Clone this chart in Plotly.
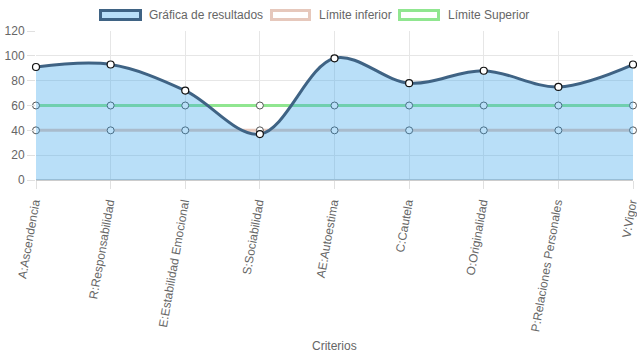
import plotly.graph_objects as go

categories = ["A:Ascendencia", "R:Responsabilidad", "E:Estabilidad Emocional",
              "S:Sociabilidad", "AE:Autoestima", "C:Cautela", "O:Originalidad",
              "P:Relaciones Personales", "V:Vigor"]
resultados = [91, 93, 72, 37, 98, 78, 88, 75, 93]
limite_inferior = [40, 40, 40, 40, 40, 40, 40, 40, 40]
limite_superior = [60, 60, 60, 60, 60, 60, 60, 60, 60]
y_ticks = [0, 20, 40, 60, 80, 100, 120]
legend_names = ["Gráfica de resultados", "Límite inferior", "Límite Superior"]
x_title = "Criterios"

W, H = 637, 359
L, R, T, B = 36, 4, 31, 179
PW, PH = W - L - R, H - T - B

def px(x):
    return (x - L) / PW

def py(y):
    return (H - B - y) / PH

FONT = "Liberation Sans, Arial, Helvetica, sans-serif"
GREY = "#666666"

fig = go.Figure()

fig.add_trace(go.Scatter(
    x=categories, y=limite_inferior, mode="lines+markers", name=legend_names[1],
    line=dict(color="rgb(230,200,188)", width=3, shape="spline"),
    marker=dict(size=7, color="white", line=dict(color="#555555", width=1)),
    showlegend=False, hoverinfo="skip", cliponaxis=False))
fig.add_trace(go.Scatter(
    x=categories, y=limite_superior, mode="lines+markers", name=legend_names[2],
    line=dict(color="rgb(144,230,144)", width=3, shape="spline"),
    marker=dict(size=7, color="white", line=dict(color="#555555", width=1)),
    showlegend=False, hoverinfo="skip", cliponaxis=False))
fig.add_trace(go.Scatter(
    x=categories, y=resultados, mode="lines+markers", name=legend_names[0],
    fill="tozeroy", fillcolor="rgba(54,162,235,0.35)",
    line=dict(color="#3f6384", width=3, shape="spline", smoothing=1.0),
    marker=dict(size=7, color="white", line=dict(color="#111111", width=1.2)),
    showlegend=False, hoverinfo="skip", cliponaxis=False))

# custom Chart.js style legend
shapes = []
annotations = []
legend_items = [
    (99, 142, "rgba(54,162,235,0.35)", "#3f6384", 147),
    (270, 311, "white", "rgb(230,200,188)", 317),
    (398, 440, "white", "rgb(144,230,144)", 446),
]
for (x0, x1, fillc, linec, tx), name in zip(legend_items, legend_names):
    shapes.append(dict(type="rect", xref="paper", yref="paper",
                       x0=px(x0 + 1.5), x1=px(x1 - 1.5), y0=py(21 - 1.5), y1=py(9 + 1.5),
                       fillcolor=fillc, line=dict(color=linec, width=3)))
    annotations.append(dict(xref="paper", yref="paper", x=px(tx), y=py(15),
                            text=name, showarrow=False, xanchor="left", yanchor="middle",
                            font=dict(family=FONT, size=12, color=GREY)))
annotations.append(dict(xref="paper", yref="paper", x=px(334), y=py(346),
                        text=x_title, showarrow=False, xanchor="center", yanchor="middle",
                        font=dict(family=FONT, size=12, color=GREY)))

fig.update_layout(
    width=W, height=H,
    margin=dict(l=L, r=R, t=T, b=B, pad=0, autoexpand=False),
    paper_bgcolor="white", plot_bgcolor="white",
    shapes=shapes, annotations=annotations,
    font=dict(family=FONT, size=12, color=GREY),
    xaxis=dict(
        type="category", range=[0, len(categories) - 1], automargin=False,
        showgrid=True, gridcolor="#e6e6e6", gridwidth=1,
        ticks="outside", ticklen=8, tickcolor="#e0e0e0",
        tickangle=-80, tickfont=dict(family=FONT, size=12, color=GREY),
        ticklabelshift=-2, ticklabelstandoff=2,
        showline=False, zeroline=False,
    ),
    yaxis=dict(
        range=[0, 120], tickvals=y_ticks, automargin=False,
        showgrid=True, gridcolor="#e6e6e6", gridwidth=1,
        ticks="outside", ticklen=8, tickcolor="#e0e0e0",
        tickfont=dict(family=FONT, size=12, color=GREY),
        zeroline=True, zerolinecolor="#cccccc", zerolinewidth=2,
        showline=False,
    ),
)

fig.write_html("out.html",
               config={"displayModeBar": False, "staticPlot": True},
               post_script="document.body.style.margin='0';document.body.style.overflow='hidden';")
